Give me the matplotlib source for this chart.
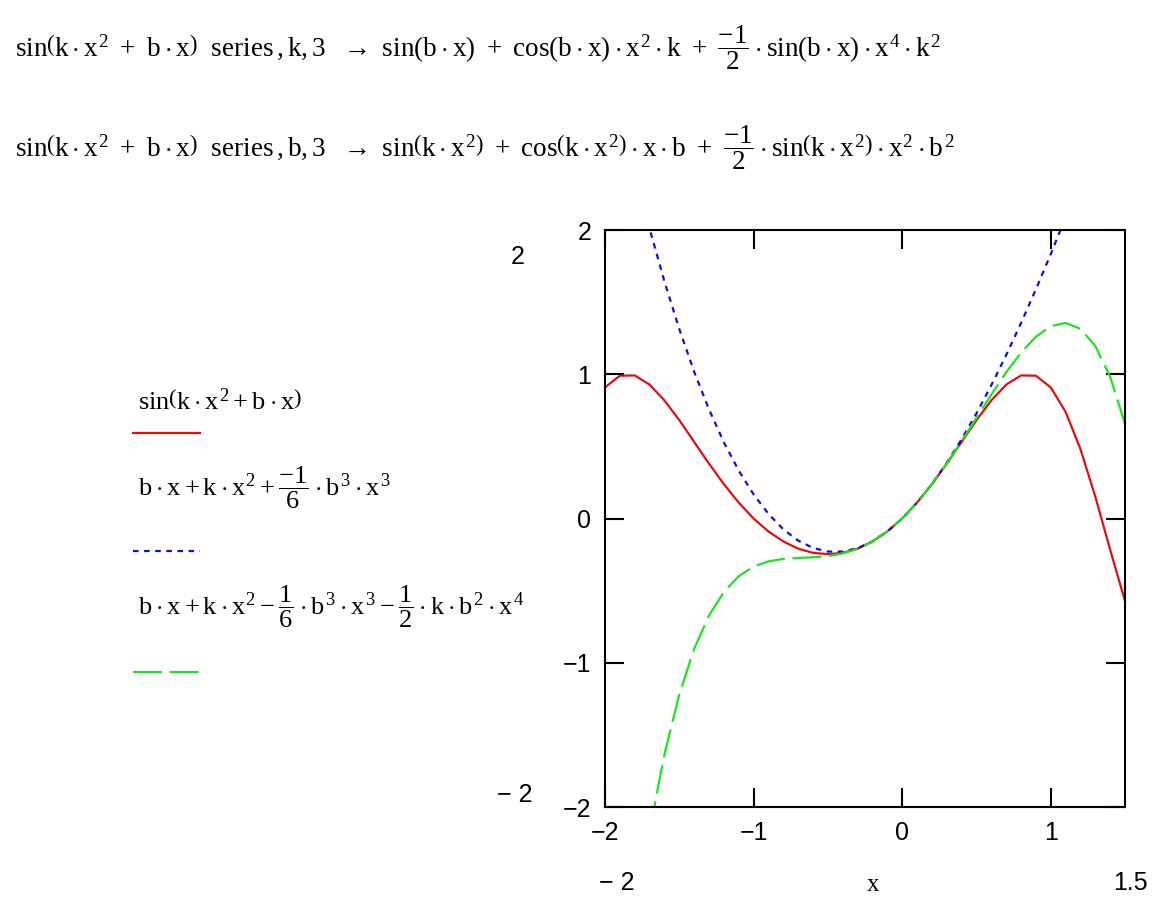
import matplotlib
matplotlib.use("Agg")
import matplotlib.pyplot as plt
from matplotlib.lines import Line2D

plt.rcParams['mathtext.fontset'] = 'custom'
plt.rcParams['mathtext.rm'] = 'Liberation Serif'
plt.rcParams['mathtext.it'] = 'Liberation Serif'
plt.rcParams['mathtext.bf'] = 'Liberation Serif:bold'
plt.rcParams['font.family'] = ['Liberation Serif', 'DejaVu Sans']

# values, x from -2 to 1.5
x_vals = [-2.0, -1.9, -1.8, -1.7, -1.6, -1.5, -1.4, -1.3, -1.2, -1.1, -1.0, -0.9,
          -0.8, -0.7, -0.6, -0.5, -0.4, -0.3, -0.2, -0.1, 0.0, 0.1, 0.2, 0.3,
          0.4, 0.5, 0.6, 0.7, 0.8, 0.9, 1.0, 1.1, 1.2, 1.3, 1.4, 1.5]
sin_curve = [0.909, 0.990, 0.992, 0.928, 0.819, 0.682, 0.531, 0.380, 0.238, 0.110, 0.0, -0.090,
             -0.159, -0.209, -0.238, -0.247, -0.238, -0.209, -0.159, -0.090, 0.0, 0.110, 0.238, 0.380,
             0.531, 0.682, 0.819, 0.928, 0.992, 0.990, 0.909, 0.739, 0.481, 0.151, -0.217, -0.572]
series3 = [3.333, 2.853, 2.412, 2.009, 1.643, 1.313, 1.017, 0.756, 0.528, 0.332, 0.167, 0.032,
           -0.075, -0.153, -0.204, -0.229, -0.229, -0.206, -0.159, -0.090, 0.0, 0.110, 0.239, 0.386,
           0.549, 0.729, 0.924, 1.133, 1.355, 1.589, 1.833, 2.088, 2.352, 2.624, 2.903, 3.188]
series4 = [-4.667, -3.663, -2.837, -2.167, -1.634, -1.219, -0.904, -0.672, -0.509, -0.400, -0.333, -0.297,
           -0.280, -0.273, -0.269, -0.261, -0.242, -0.210, -0.160, -0.090, 0.0, 0.110, 0.238, 0.381,
           0.537, 0.698, 0.859, 1.013, 1.150, 1.260, 1.333, 1.356, 1.315, 1.196, 0.982, 0.656]

y_ticks = [-2, -1, 0, 1, 2]
x_ticks = [-2, -1, 0, 1]

red = '#dd1111'
blue = '#1111cc'
green = '#22e022'

fig = plt.figure(figsize=(11.52, 9.01), dpi=100)
ax = fig.add_axes([0.5252, 0.1043, 0.4514, 0.6404])

ax.plot(x_vals, sin_curve, color=red, lw=1.6)
ax.plot(x_vals, series3, color=blue, lw=1.6, dashes=(2.5, 2.5))
ax.plot(x_vals, series4, color=green, lw=1.6, dashes=(13, 3.5))

ax.set_xlim(-2, 1.5)
ax.set_ylim(-2, 2)
ax.set_xticks(x_ticks)
ax.set_yticks(y_ticks)
ax.tick_params(direction='in', length=14, width=1.5, top=True, right=True,
               labelsize=18, pad=10)
for lab in ax.get_xticklabels() + ax.get_yticklabels():
    lab.set_family('Liberation Sans')
for s in ax.spines.values():
    s.set_linewidth(1.5)

# Mathcad limit labels around the plot
fig.text(0.4497, 0.7148, '2', fontsize=18, family='Liberation Sans', ha='center', va='center')
fig.text(0.447, 0.1176, '\u2212 2', fontsize=18, family='Liberation Sans', ha='center', va='center')
fig.text(0.5356, 0.020, '\u2212 2', fontsize=18, family='Liberation Sans', ha='center', va='center')
fig.text(0.7578, 0.018, 'x', fontsize=18, ha='center', va='center')
fig.text(0.981, 0.020, '1.5', fontsize=18, family='Liberation Sans', ha='center', va='center')

# symbolic results at top
line1 = (r'$\mathrm{sin}\left(k\cdot x^{2}\ +\ b\cdot x\right)\ \ \mathrm{series}\,,k,3\ \ \rightarrow\ '
         r'\mathrm{sin}(b\cdot x)\ +\ \mathrm{cos}(b\cdot x)\cdot x^{2}\cdot k\ +\ \dfrac{-1}{2}\cdot'
         r'\mathrm{sin}(b\cdot x)\cdot x^{4}\cdot k^{2}$')
line2 = (r'$\mathrm{sin}\left(k\cdot x^{2}\ +\ b\cdot x\right)\ \ \mathrm{series}\,,b,3\ \ \rightarrow\ '
         r'\mathrm{sin}\left(k\cdot x^{2}\right)\ +\ \mathrm{cos}\left(k\cdot x^{2}\right)\cdot x\cdot b\ +\ '
         r'\dfrac{-1}{2}\cdot\mathrm{sin}\left(k\cdot x^{2}\right)\cdot x^{2}\cdot b^{2}$')
fig.text(0.013, 0.9367, line1, fontsize=19.5, va='baseline')
fig.text(0.013, 0.8258, line2, fontsize=19.5, va='baseline')

# legend: label with line sample below
leg_labels = [r'$\mathrm{sin}\left(k\cdot x^{2}+b\cdot x\right)$',
              r'$b\cdot x+k\cdot x^{2}+\dfrac{-1}{6}\cdot b^{3}\cdot x^{3}$',
              r'$b\cdot x+k\cdot x^{2}-\dfrac{1}{6}\cdot b^{3}\cdot x^{3}-\dfrac{1}{2}\cdot k\cdot b^{2}\cdot x^{4}$']
leg_text_y = [0.545, 0.4495, 0.3174]
leg_line_y = [0.5194, 0.3885, 0.2542]
leg_styles = [dict(color=red), dict(color=blue, dashes=(2.5, 2.5)), dict(color=green, dashes=(13, 3.5))]
for lab, ty, ly, st in zip(leg_labels, leg_text_y, leg_line_y, leg_styles):
    fig.text(0.12, ty, lab, fontsize=19, va='baseline')
    fig.add_artist(Line2D([0.1155, 0.1736], [ly, ly], lw=1.6, transform=fig.transFigure, **st))

fig.savefig('out.png', dpi=100)
